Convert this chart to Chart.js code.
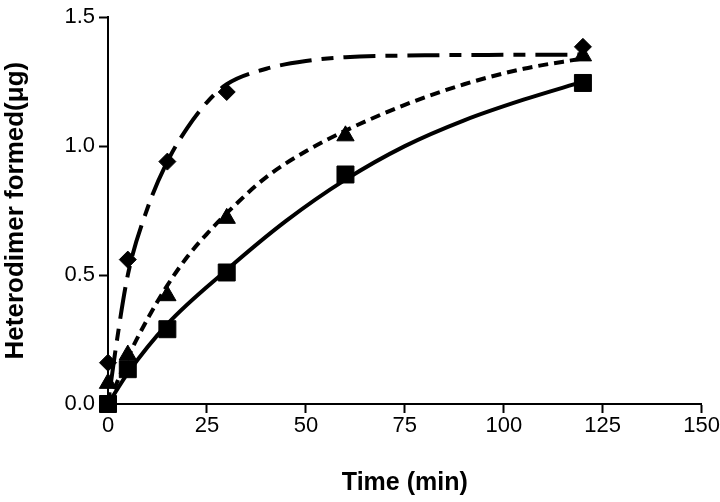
<!DOCTYPE html>
<html lang="en">
<head>
    <meta charset="UTF-8">
    <title>Heterodimer formation</title>
    <script src="https://cdn.jsdelivr.net/npm/chart.js"></script>
    <style>
        html, body { margin: 0; padding: 0; background: #fff; }
        #wrap { width: 720px; height: 502px; }
    </style>
</head>
<body>
    <div id="wrap"><canvas id="myChart" width="720" height="502"></canvas></div>

    <script>
        // measured points
        const times = [0, 5, 15, 30, 60, 120];
        const diamondTimes = [0, 5, 15, 30, 120];
        const diamondVals = [0.16, 0.56, 0.94, 1.21, 1.385];
        const triangleVals = [0.08, 0.19, 0.42, 0.72, 1.04, 1.35];
        const squareVals = [0.0, 0.135, 0.29, 0.51, 0.89, 1.245];

        // fitted curves
        const fitDiamondT = [0, 2, 5, 10, 15, 20, 25, 30, 40, 50, 60, 80, 100, 120];
        const fitDiamondV = [0, 0.22, 0.5, 0.76, 0.94, 1.07, 1.17, 1.24, 1.3, 1.33, 1.345, 1.352, 1.354, 1.355];
        const fitTriangleT = [0, 5, 10, 15, 20, 25, 30, 40, 50, 60, 75, 90, 105, 120];
        const fitTriangleV = [0, 0.18, 0.33, 0.46, 0.57, 0.66, 0.74, 0.88, 0.98, 1.06, 1.16, 1.24, 1.3, 1.34];
        const fitSquareT = [0, 5, 15, 30, 45, 60, 75, 90, 105, 120];
        const fitSquareV = [0, 0.12, 0.31, 0.52, 0.71, 0.87, 1.0, 1.1, 1.18, 1.25];

        const xTicks = [0, 25, 50, 75, 100, 125, 150];
        const yTicks = [0.0, 0.5, 1.0, 1.5];

        const pairs = (xs, ys) => xs.map((x, i) => ({ x: x, y: ys[i] }));
        const face = "'Liberation Sans', Arial, sans-serif";

        const fitLine = (data, dash) => ({
            type: 'line',
            data: data,
            borderColor: '#000',
            borderWidth: 4,
            borderDash: dash,
            pointRadius: 0,
            fill: false,
            cubicInterpolationMode: 'monotone',
            clip: false
        });
        const markers = (data, style, r) => ({
            type: 'scatter',
            data: data,
            pointStyle: style,
            pointRadius: r,
            pointHoverRadius: r,
            backgroundColor: '#000',
            borderColor: '#000',
            borderWidth: 1,
            showLine: false,
            clip: false
        });

        const ctx = document.getElementById('myChart').getContext('2d');
        new Chart(ctx, {
            data: {
                datasets: [
                    fitLine(pairs(fitDiamondT, fitDiamondV), [12, 10, 32, 10]),
                    fitLine(pairs(fitTriangleT, fitTriangleV), [10, 6]),
                    fitLine(pairs(fitSquareT, fitSquareV), []),
                    markers(pairs(diamondTimes, diamondVals), 'rectRot', 8.5),
                    markers(pairs(times, triangleVals), 'triangle', 10),
                    markers(pairs(times, squareVals), 'rect', 12)
                ]
            },
            options: {
                responsive: false,
                animation: false,
                events: [],
                layout: { padding: { top: 14, right: 0, left: 0, bottom: 0 } },
                plugins: { legend: { display: false }, tooltip: { enabled: false } },
                scales: {
                    x: {
                        type: 'linear',
                        min: 0,
                        max: 150,
                        afterBuildTicks: s => { s.ticks = xTicks.map(v => ({ value: v })); },
                        afterFit: s => { s.height = 98; },
                        grid: { drawOnChartArea: false, tickLength: 9, tickColor: '#000', tickWidth: 2 },
                        border: { color: '#000', width: 2 },
                        ticks: { color: '#000', padding: 0, font: { family: face, size: 22 } },
                        title: {
                            display: true,
                            text: 'Time (min)',
                            color: '#000',
                            font: { family: face, size: 25, weight: 'bold' },
                            padding: { top: 0, bottom: 4 }
                        }
                    },
                    y: {
                        min: 0,
                        max: 1.5,
                        afterBuildTicks: s => { s.ticks = yTicks.map(v => ({ value: v })); },
                        afterFit: s => { s.width = 108; },
                        grid: { drawOnChartArea: false, tickLength: 9, tickColor: '#000', tickWidth: 2 },
                        border: { color: '#000', width: 2 },
                        ticks: {
                            color: '#000',
                            padding: 4,
                            font: { family: face, size: 22 },
                            callback: v => v.toFixed(1)
                        },
                        title: {
                            display: true,
                            text: 'Heterodimer formed(\u03bcg)',
                            color: '#000',
                            font: { family: face, size: 26, weight: 'bold' },
                            padding: { top: 0, bottom: 4 }
                        }
                    }
                }
            }
        });
    </script>
</body>
</html>
